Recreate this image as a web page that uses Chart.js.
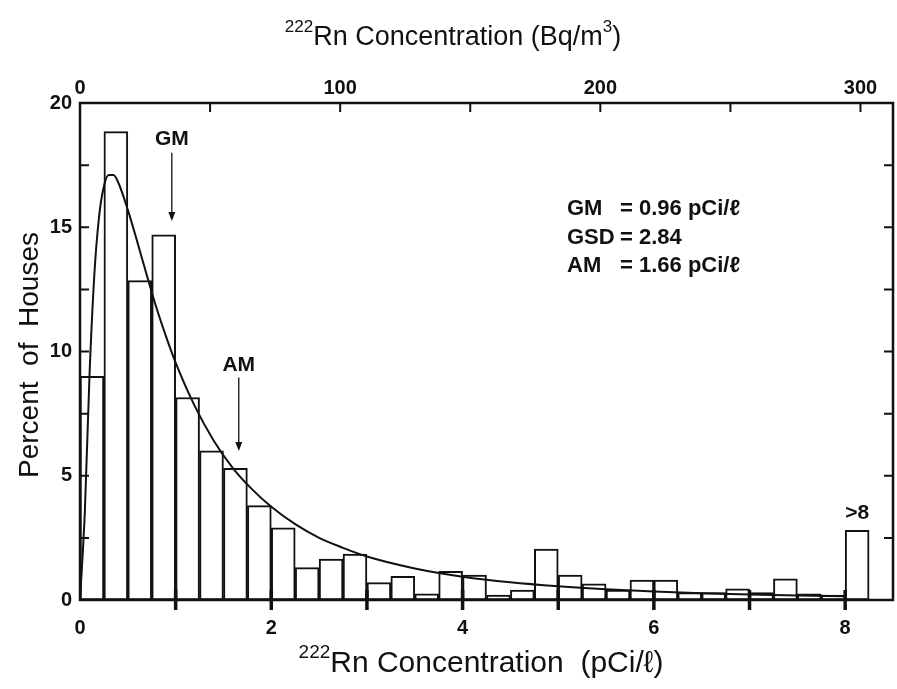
<!DOCTYPE html>
<html>
<head>
<meta charset="utf-8">
<script src="https://cdn.jsdelivr.net/npm/chart.js@4.4.0/dist/chart.umd.min.js"></script>
<style>
  html, body { margin: 0; padding: 0; background: #fff; }
  #wrap { width: 897px; height: 689px; }
</style>
</head>
<body>
<div id="wrap"><canvas id="chart"></canvas></div>
<script>
'use strict';

// ---------- data ----------
// histogram bins are 0.25 pCi/l wide; last bin is the ">8" group
const BIN_CENTERS = [
  0.125, 0.375, 0.625, 0.875, 1.125, 1.375, 1.625, 1.875,
  2.125, 2.375, 2.625, 2.875, 3.125, 3.375, 3.625, 3.875,
  4.125, 4.375, 4.625, 4.875, 5.125, 5.375, 5.625, 5.875,
  6.125, 6.375, 6.625, 6.875, 7.125, 7.375, 7.625, 7.875,
  8.125,
];
const PERCENT_HOUSES = [
  9.0, 18.85, 12.85, 14.7, 8.15, 6.0, 5.3, 3.8,
  2.9, 1.3, 1.65, 1.85, 0.7, 0.95, 0.25, 1.15,
  1.0, 0.2, 0.4, 2.05, 1.0, 0.65, 0.4, 0.8,
  0.8, 0.3, 0.3, 0.45, 0.3, 0.85, 0.25, 0.2,
  2.8,
];
// fitted lognormal curve
const CURVE_X = [0, 0.05, 0.1, 0.15, 0.2, 0.25, 0.3, 0.35, 0.4, 0.5, 0.6, 0.7, 0.8, 0.9, 1.0,
  1.2, 1.4, 1.6, 1.8, 2.0, 2.25, 2.5, 2.75, 3.0, 3.5, 4.0, 4.5, 5.0, 5.5, 6.0, 6.5, 7.0, 7.5, 8.0];
const CURVE_Y = [0, 3.5, 9.1, 13.1, 15.45, 16.65, 17.1, 17.1, 16.8, 15.7, 14.4, 13.05, 11.75, 10.6, 9.55,
  7.8, 6.4, 5.3, 4.45, 3.75, 3.05, 2.5, 2.1, 1.75, 1.27, 0.94, 0.71, 0.55, 0.43, 0.34, 0.27, 0.22, 0.18, 0.15];

const X_LABELS = [0, 2, 4, 6, 8];
const X_MARKS = [1, 2, 3, 4, 5, 6, 7, 8];
const Y_LABELS = [0, 5, 10, 15, 20];
const Y_MARKS = [2.5, 5, 7.5, 10, 12.5, 15, 17.5];
const TOP_LABELS = [0, 100, 200, 300];
const TOP_MARKS = [50, 100, 150, 200, 250, 300];

const GM = 0.96;
const AM = 1.66;
const STATS = [['GM', '= 0.96 pCi/ℓ'], ['GSD', '= 2.84'], ['AM', '= 1.66 pCi/ℓ']];

const FONT = "'Liberation Sans', Arial, Helvetica, sans-serif";
const INK = '#111';

// ---------- helpers ----------
function drawSupText(ctx, parts, cx, cy, size) {
  // parts: [text, isSup]
  const big = `${size}px ${FONT}`;
  const small = `${Math.round(size * 0.62)}px ${FONT}`;
  let w = 0;
  for (const [t, sup] of parts) {
    ctx.font = sup ? small : big;
    w += ctx.measureText(t).width;
  }
  let x = cx - w / 2;
  ctx.textAlign = 'left';
  ctx.textBaseline = 'middle';
  for (const [t, sup] of parts) {
    ctx.font = sup ? small : big;
    ctx.fillText(t, x, sup ? cy - size * 0.38 : cy);
    x += ctx.measureText(t).width;
  }
}

function arrow(ctx, x, y1, y2) {
  ctx.beginPath();
  ctx.moveTo(x, y1);
  ctx.lineTo(x, y2 - 6);
  ctx.stroke();
  ctx.beginPath();
  ctx.moveTo(x - 3.5, y2 - 9);
  ctx.lineTo(x + 3.5, y2 - 9);
  ctx.lineTo(x, y2);
  ctx.closePath();
  ctx.fill();
}

// ---------- frame, ticks, titles, notes ----------
const decor = {
  id: 'decor',
  afterDraw(chart) {
    const { ctx, chartArea: a, scales } = chart;
    const xs = scales.x, ys = scales.y, ts = scales.xTop;
    ctx.save();
    ctx.strokeStyle = INK;
    ctx.fillStyle = INK;

    ctx.lineWidth = 2.5;
    ctx.strokeRect(a.left, a.top, a.right - a.left, a.bottom - a.top);

    ctx.lineWidth = 2;
    ctx.beginPath();
    for (const v of Y_MARKS) {
      const py = ys.getPixelForValue(v);
      ctx.moveTo(a.left, py); ctx.lineTo(a.left + 9, py);
      ctx.moveTo(a.right, py); ctx.lineTo(a.right - 9, py);
    }
    for (const v of TOP_MARKS) {
      const px = ts.getPixelForValue(v);
      ctx.moveTo(px, a.top); ctx.lineTo(px, a.top + 9);
    }
    ctx.stroke();

    ctx.lineWidth = 3.5;
    ctx.beginPath();
    for (const v of X_MARKS) {
      const px = xs.getPixelForValue(v);
      ctx.moveTo(px, a.bottom - 10); ctx.lineTo(px, a.bottom + 10);
    }
    ctx.stroke();

    // titles
    drawSupText(ctx, [['222', true], ['Rn Concentration (Bq/m', false], ['3', true], [')', false]], 453, 38, 27);
    drawSupText(ctx, [['222', true], ['Rn Concentration  (pCi/ℓ)', false]], 481, 664, 30);
    ctx.save();
    ctx.translate(30, 355);
    ctx.rotate(-Math.PI / 2);
    drawSupText(ctx, [['Percent  of  Houses', false]], 0, 0, 28);
    ctx.restore();

    // GM / AM markers
    ctx.lineWidth = 1.3;
    const gx = xs.getPixelForValue(GM);
    const ax = xs.getPixelForValue(AM);
    arrow(ctx, gx, ys.getPixelForValue(18.0), ys.getPixelForValue(15.25));
    arrow(ctx, ax, ys.getPixelForValue(8.95), ys.getPixelForValue(6.0));
    ctx.font = `bold 21px ${FONT}`;
    ctx.textAlign = 'center';
    ctx.textBaseline = 'middle';
    ctx.fillText('GM', gx, ys.getPixelForValue(18.55));
    ctx.fillText('AM', ax, ys.getPixelForValue(9.45));
    ctx.fillText('>8', xs.getPixelForValue(8.125), ys.getPixelForValue(3.5));

    // stats box
    ctx.font = `bold 22px ${FONT}`;
    ctx.textAlign = 'left';
    STATS.forEach(([k, v], i) => {
      const py = 209 + i * 28.5;
      ctx.fillText(k, 567, py);
      ctx.fillText(v, 620, py);
    });
    ctx.restore();
  },
};

// ---------- chart ----------
const tickFont = { family: FONT, size: 20, weight: 'bold' };
const noGrid = { display: false, drawTicks: false };

new Chart(document.getElementById('chart'), {
  data: {
    datasets: [
      {
        type: 'bar',
        data: BIN_CENTERS.map((x, i) => ({ x, y: PERCENT_HOUSES[i] })),
        backgroundColor: '#fff',
        borderColor: INK,
        borderWidth: 2,
        borderSkipped: false,
        barPercentage: 1,
        categoryPercentage: 1,
        order: 2,
      },
      {
        type: 'line',
        data: CURVE_X.map((x, i) => ({ x, y: CURVE_Y[i] })),
        borderColor: INK,
        borderWidth: 2,
        pointRadius: 0,
        cubicInterpolationMode: 'monotone',
        fill: false,
        order: 1,
      },
    ],
  },
  options: {
    responsive: true,
    maintainAspectRatio: false,
    animation: false,
    layout: { padding: { right: 4, left: 0, top: 0, bottom: 0 } },
    plugins: { legend: { display: false }, tooltip: { enabled: false } },
    scales: {
      x: {
        type: 'linear', position: 'bottom', min: 0, max: 8.5, offset: false,
        afterBuildTicks: (s) => { s.ticks = X_LABELS.map((v) => ({ value: v })); },
        afterFit: (s) => { s.height = 89; },
        ticks: { font: tickFont, color: INK, padding: 16, maxRotation: 0 },
        grid: noGrid,
        border: { display: false },
      },
      xTop: {
        type: 'linear', position: 'top', min: 0, max: 312.5, offset: false,
        afterBuildTicks: (s) => { s.ticks = TOP_LABELS.map((v) => ({ value: v })); },
        afterFit: (s) => { s.height = 103; },
        ticks: { font: tickFont, color: INK, padding: 3, maxRotation: 0 },
        grid: noGrid,
        border: { display: false },
      },
      y: {
        type: 'linear', position: 'left', min: 0, max: 20,
        afterBuildTicks: (s) => { s.ticks = Y_LABELS.map((v) => ({ value: v })); },
        afterFit: (s) => { s.width = 80; },
        ticks: { font: tickFont, color: INK, padding: 8 },
        grid: noGrid,
        border: { display: false },
      },
    },
  },
  plugins: [decor],
});
</script>
</body>
</html>
